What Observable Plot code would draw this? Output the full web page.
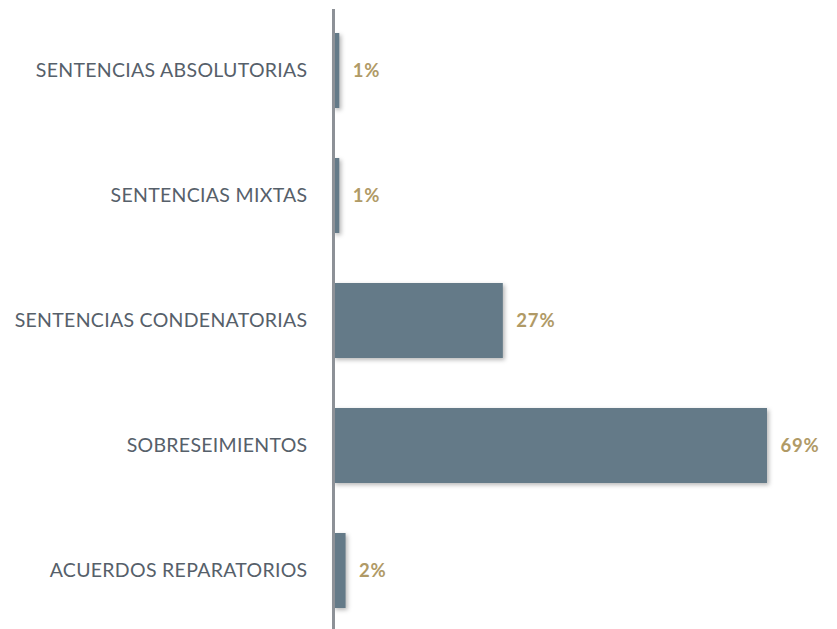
<!DOCTYPE html>
<html>
<head>
<meta charset="utf-8">
<script src="https://cdn.jsdelivr.net/npm/d3@7"></script>
<script src="https://cdn.jsdelivr.net/npm/@observablehq/plot@0.6"></script>
<style>
  html, body { margin: 0; padding: 0; background: #fff; }
  #chart svg { display: block; }
  g[aria-label="bar"] rect { filter: drop-shadow(2px 2px 2px rgba(0,0,0,0.28)); }
  g[aria-label="y-axis tick label"] text { letter-spacing: 0.3px; }
  g[aria-label="text"] text { letter-spacing: 0.8px; }
</style>
</head>
<body>
<div id="chart"></div>
<script>
const categories = [
  "SENTENCIAS ABSOLUTORIAS",
  "SENTENCIAS MIXTAS",
  "SENTENCIAS CONDENATORIAS",
  "SOBRESEIMIENTOS",
  "ACUERDOS REPARATORIOS"
];
const values = [1, 1, 27, 69, 2];
const valueLabels = ["1%", "1%", "27%", "69%", "2%"];

const data = categories.map((c, i) => ({category: c, value: values[i], label: valueLabels[i]}));

const chart = Plot.plot({
  width: 837,
  height: 629,
  marginLeft: 333,
  marginRight: 70,
  marginTop: 9,
  marginBottom: 0,
  style: {fontFamily: "Lato, sans-serif", background: "#fff"},
  x: {domain: [0, 69], axis: null},
  y: {domain: categories, range: [7.5, 632.5], paddingInner: 0.4, paddingOuter: 0.2, label: null},
  marks: [
    Plot.barX(data, {x: "value", y: "category", fill: "#647a88"}),
    Plot.ruleX([0], {stroke: "#8d9197", strokeWidth: 3}),
    Plot.axisY({tickSize: 0, tickPadding: 26, fontSize: 19.5, fill: "#56606a", label: null}),
    Plot.text(data, {x: "value", y: "category", text: "label", dx: 13, textAnchor: "start",
      fontSize: 18.5, fontWeight: "bold", fill: "#b09a66"})
  ]
});
document.getElementById("chart").appendChild(chart);
</script>
</body>
</html>
